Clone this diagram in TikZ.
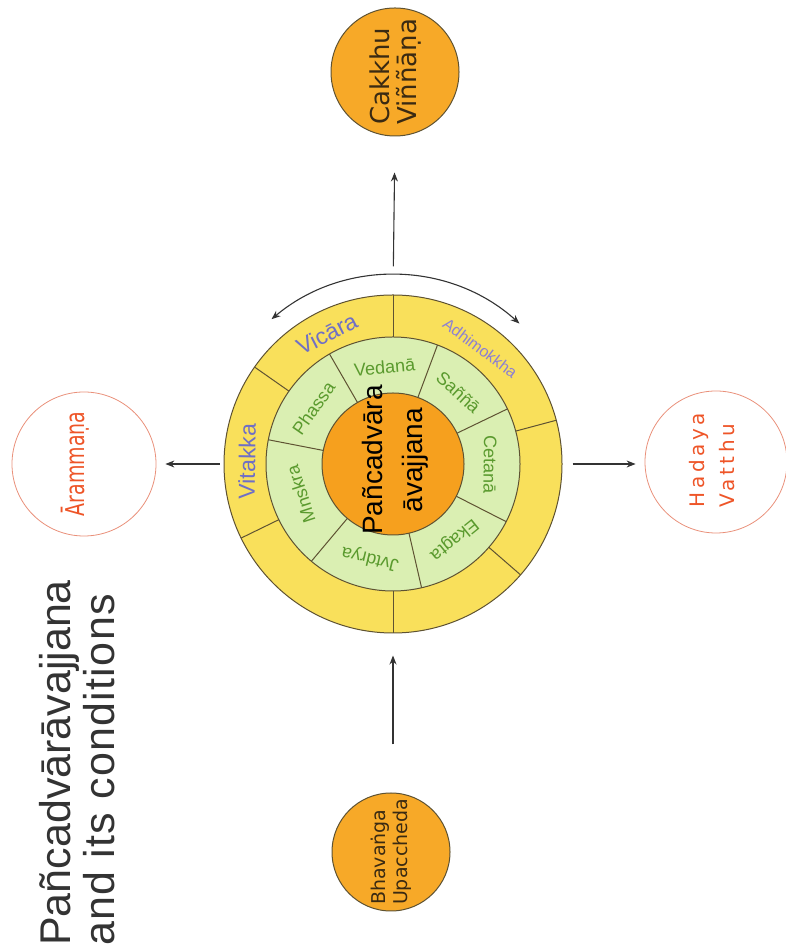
\documentclass[tikz,border=0pt]{standalone}
\usepackage{fontspec}
\usepackage{graphicx}
\setmainfont{Liberation Sans}
\newfontfamily\dvs{DejaVu Sans}
\newfontfamily\dvsspaced{DejaVu Sans}[LetterSpace=18]
\newfontfamily\titlewide{Liberation Sans}[LetterSpace=3]
\usetikzlibrary{arrows.meta,calc}

\definecolor{ringyellow}{HTML}{F9E05B}
\definecolor{ringgreen}{HTML}{DAEFB2}
\definecolor{coreorange}{HTML}{F6A01E}
\definecolor{bulborange}{HTML}{F7A928}
\definecolor{edgeolive}{HTML}{5E5232}
\definecolor{lblviolet}{HTML}{6F6FC6}
\definecolor{lbllilac}{HTML}{8C80D2}
\definecolor{lblgreen}{HTML}{5A9A2E}
\definecolor{lblred}{HTML}{EE5528}
\definecolor{ringred}{HTML}{E9907A}
\definecolor{inkdark}{HTML}{333333}
\definecolor{textbrown}{HTML}{3A2A12}

\newcommand\fsz[1]{\fontsize{#1}{#1}\selectfont}
% label set in a ring, tops pointing outward: name, angle, radius, colour, size, text
\newcommand\ringlabel[6]{%
  \node[rotate={#2-90},text=#4,font=\fsz{#5},inner sep=0pt] (#1) at ($(C)+(#2:#3)$) {#6};}

\begin{document}
\begin{tikzpicture}[x=1pt,y=1pt,
  disc/.style={circle,inner sep=0pt,draw=edgeolive,line width=1pt},
  hollow/.style={circle,inner sep=0pt,draw=ringred,line width=0.8pt},
  divider/.style={draw=edgeolive,line width=1pt},
  arr/.style={draw=inkdark,line width=1.1pt,-{Stealth[length=9pt,width=7pt]}},
  arrboth/.style={draw=inkdark,line width=1.1pt,
    {Stealth[length=9pt,width=7pt]}-{Stealth[length=9pt,width=7pt]}},
]
\useasboundingbox (0,0) rectangle (785,949);
\coordinate (C) at (393,485);

% the three concentric rings
\node[disc,fill=ringyellow,minimum size=338pt] (ring) at (C) {};
\node[disc,fill=ringgreen,minimum size=254pt] (mid) at (C) {};
\foreach \a in {90,145,206,270,319,15}
  \draw[divider] ($(C)+(\a:127)$) -- ($(C)+(\a:169)$);
\foreach \a in {120,69.5,25.7,-27,-77,-130,169}
  \draw[divider] ($(C)+(\a:71)$) -- ($(C)+(\a:127)$);
\node[disc,fill=coreorange,minimum size=142pt] (core) at (C) {};
\node[rotate=90,align=center,font=\fontsize{28}{40}\selectfont,text=black]
  (coretxt) at (395,489) {Pañcadvāra\\āvajjana};

% cetasika labels, inner ring
\ringlabel{vedana}{95}{97}{lblgreen}{18}{Vedanā}
\ringlabel{sanna}{47.6}{97}{lblgreen}{18}{Saññā}
\ringlabel{cetana}{-0.6}{97}{lblgreen}{18}{Cetanā}
\ringlabel{ekagta}{-51}{97}{lblgreen}{18}{Ekagta}
\ringlabel{jvtdrya}{-103.5}{97}{lblgreen}{18}{Jvtdrya}
\ringlabel{mnskra}{198}{97}{lblgreen}{18}{Mnskra}
\ringlabel{phassa}{145}{97}{lblgreen}{18}{Phassa}

% outer ring labels
\ringlabel{vicara}{117}{146}{lblviolet}{23}{Vicāra}
\ringlabel{vitakka}{179}{146}{lblviolet}{23}{Vitakka}
\ringlabel{adhimokkha}{53}{145}{lbllilac}{16}{Adhimokkha}

% conditions around the wheel
\node[disc,fill=bulborange,minimum size=128pt] (cakkhu) at (395,877) {};
\node[rotate=90,align=left,font=\dvs\fontsize{26}{27}\selectfont,text=textbrown]
  (cakkhutxt) at (cakkhu) {Cakkhu\\Viññāṇa};
\node[disc,fill=bulborange,minimum size=118pt] (bhav) at (391,97) {};
\node[rotate=90,align=left,font=\dvs\fontsize{19}{22}\selectfont,text=textbrown]
  (bhavtxt) at (bhav) {Bhavaṅga\\Upaccheda};
\node[hollow,minimum size=144pt] (aram) at (84,485) {};
\node[rotate=90,text=lblred,font=\dvs\fsz{26}] (aramtxt) at (75,485)
  {\scalebox{0.73}[1]{Ārammaṇa}};
\node[hollow,minimum size=142pt] (hadaya) at (716,487) {};
\node[rotate=90,align=left,text=lblred,font=\dvsspaced\fontsize{20}{30}\selectfont]
  (hadtxt) at (712,489) {Hadaya\\Vatthu};

% connectors
\draw[arr,shorten <=28pt,shorten >=36pt] (ring.north) -- (cakkhu.south);
\draw[arr,shorten <=4pt,shorten >=9pt] (ring.west) -- (ring.west -| aram.east);
\draw[arr,shorten <=10pt,shorten >=9pt] (ring.east) -- (ring.east -| hadaya.west);
\draw[arr,shorten <=48pt,shorten >=22pt] (ring.south |- bhav.north) -- (ring.south);
\coordinate (arcL) at ($(C)+(130:189)$);
\draw[arrboth] (arcL) arc[start angle=130,end angle=48,radius=189];

% heading
\node[rotate=90,anchor=base west,inner sep=0pt,text=inkdark,font=\fsz{43}]
  (title1) at (70,3) {Pañcadvārāvajjana};
\node[rotate=90,anchor=base west,inner sep=0pt,text=inkdark,font=\titlewide\fsz{43}]
  (title2) at (114,3) {and its conditions};
\end{tikzpicture}
\end{document}
